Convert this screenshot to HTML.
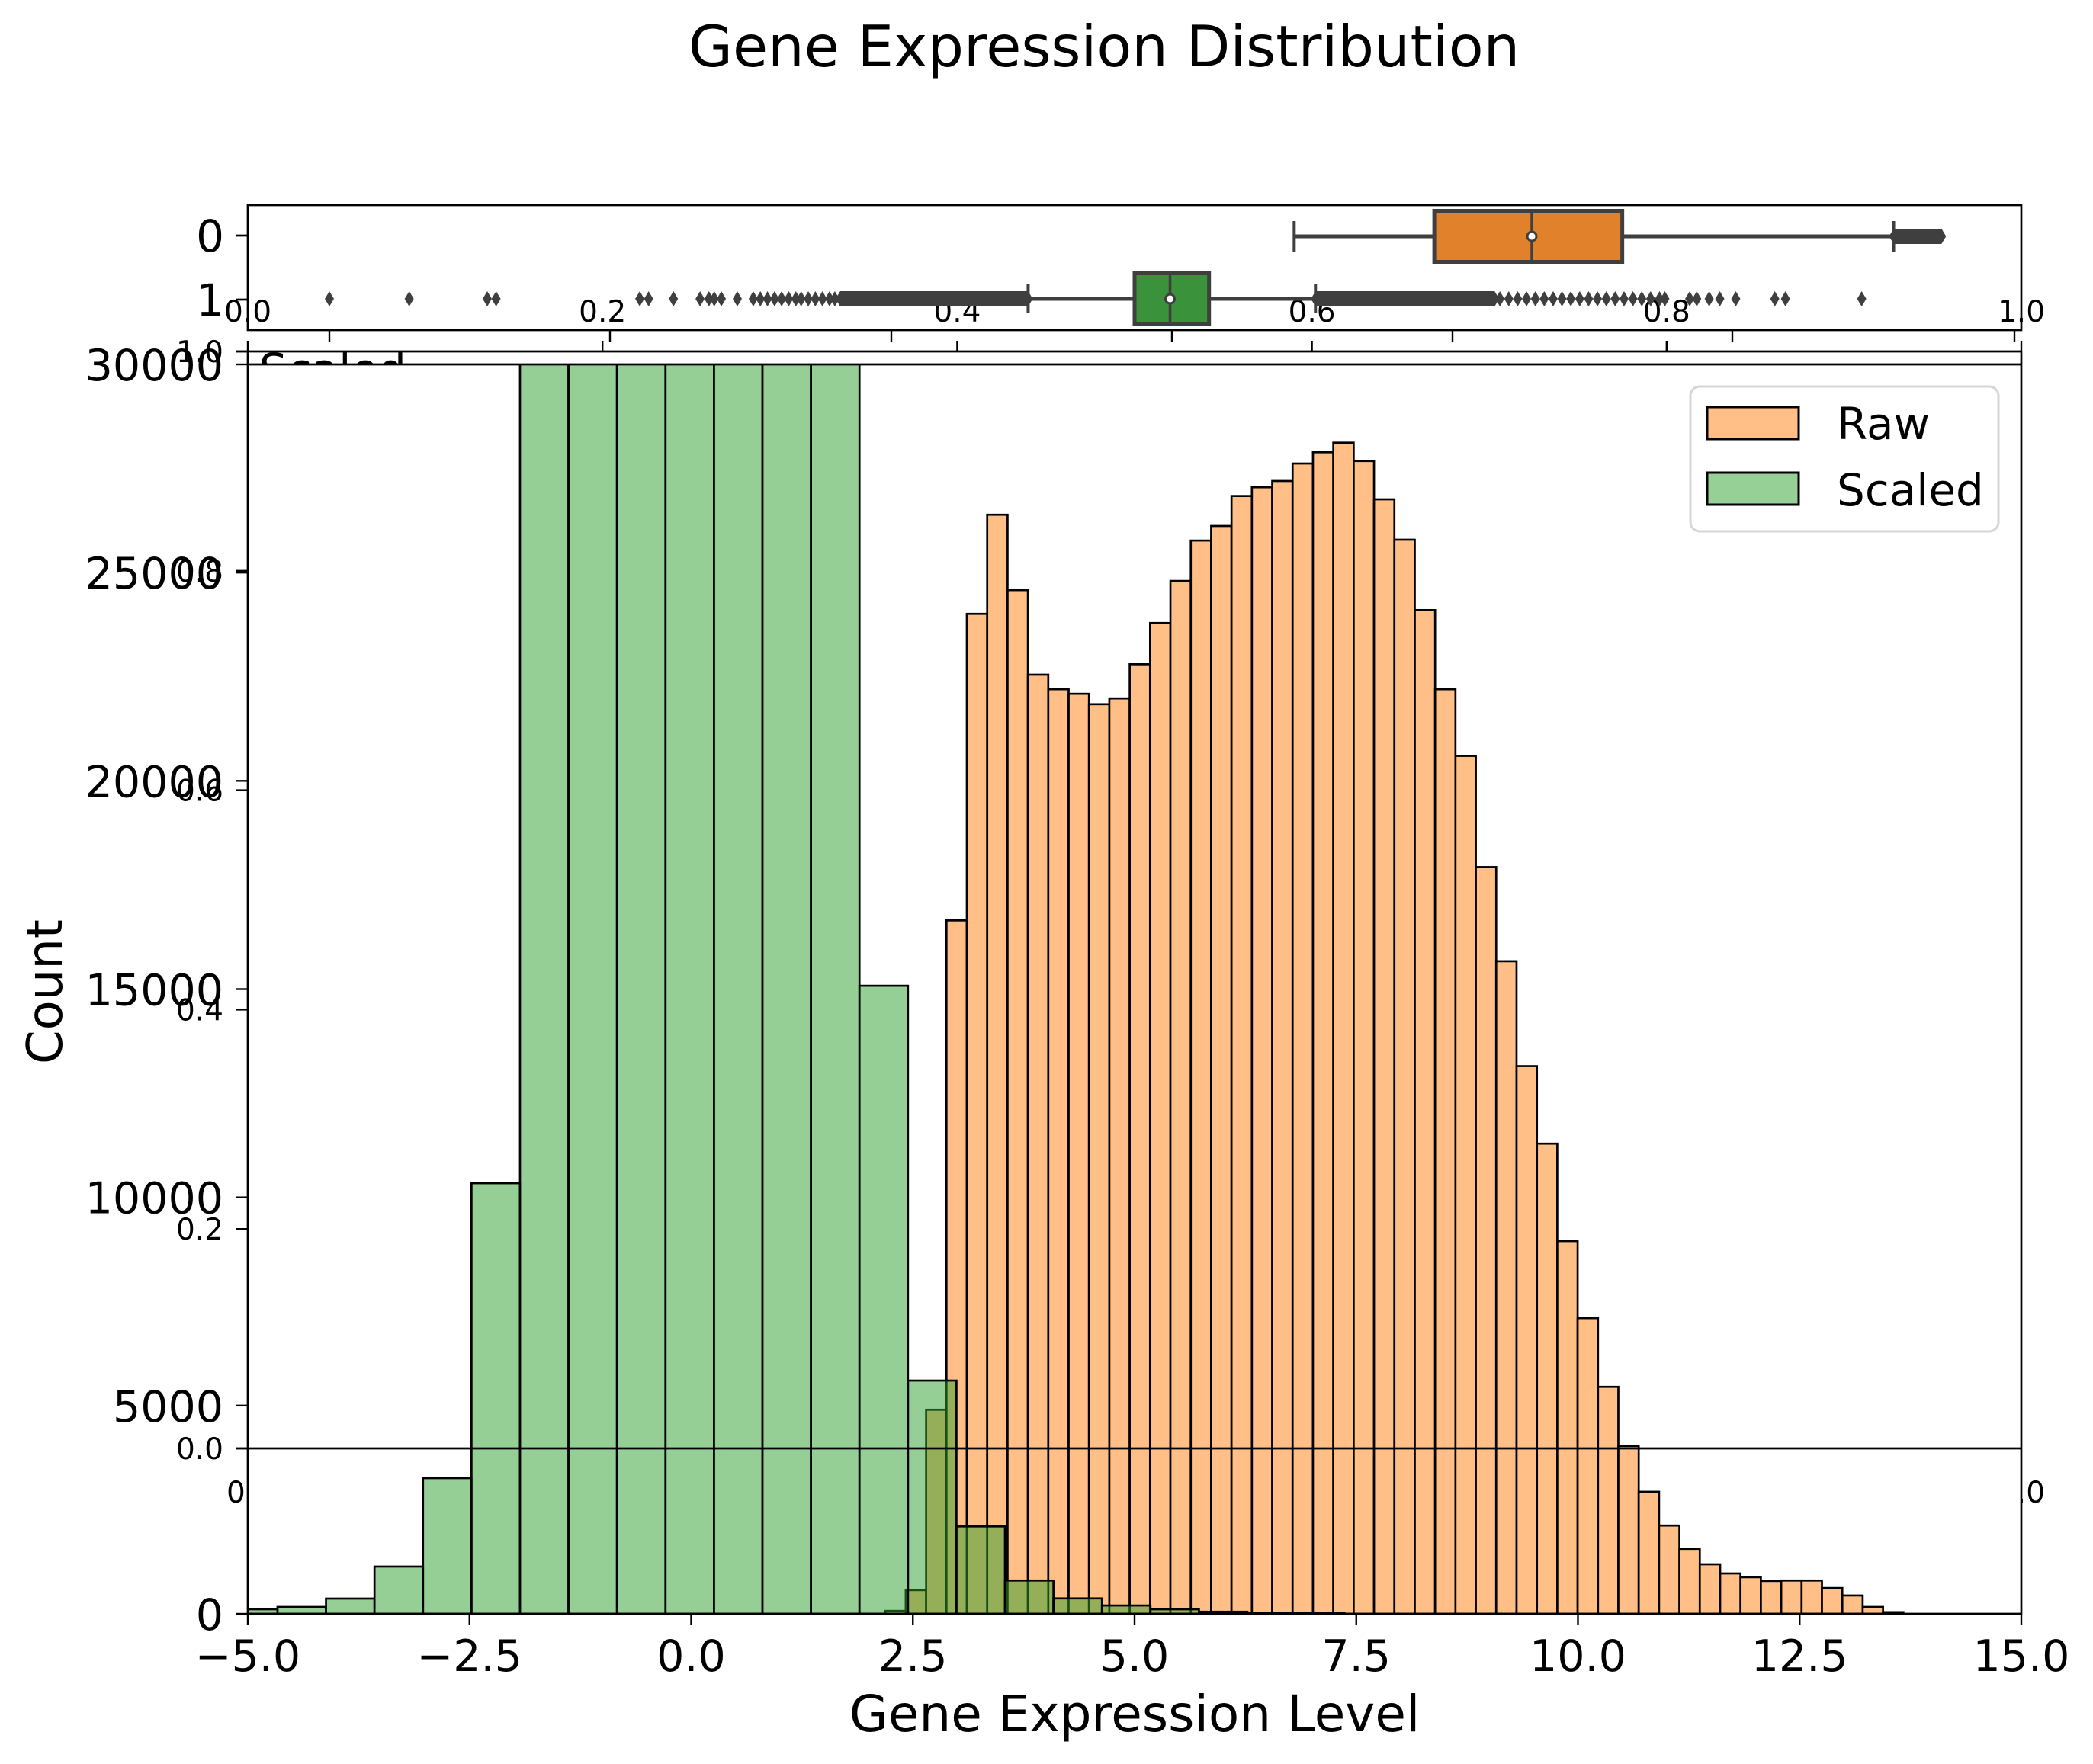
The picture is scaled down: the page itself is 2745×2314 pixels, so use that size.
<!DOCTYPE html>
<html><head><meta charset="utf-8"><style>
html,body{margin:0;padding:0;background:#fff}
svg{display:block;font-family:"DejaVu Sans","Liberation Sans",sans-serif}
</style></head><body>
<svg id="chart" xmlns="http://www.w3.org/2000/svg" width="2745" height="2314" viewBox="0 0 2745 2314">
<defs>
<clipPath id="mainClip"><rect x="325" y="478" width="2326" height="1639"/></clipPath>
<clipPath id="scaledClip"><rect x="325" y="461" width="2326" height="17"/></clipPath>
</defs>
<rect width="2745" height="2314" fill="#fff"/>
<text x="1448" y="87" font-size="75" text-anchor="middle">Gene Expression Distribution</text>
<g id="boxAxes"></g>
<g id="overlay"></g>
<g id="main"></g>
</svg>
<script>
// ---- data ----
const rawStart = 2.19;
const rawWidth = 0.2296;
const rawCounts = [70, 570, 4900, 16650, 24010, 26390, 24580, 22550, 22200, 22090, 21840, 21980, 22800, 23790, 24800, 25770, 26120, 26840, 27050, 27200, 27620, 27890, 28120, 27680, 26760, 25790, 24100, 22200, 20600, 17930, 15670, 13150, 11290, 8950, 7100, 5450, 4030, 2930, 2120, 1560, 1190, 970, 880, 790, 800, 800, 620, 440, 165, 40];
const scaledStart = -5.212;
const scaledWidth = 0.5469;
const scaledCounts = [110, 165, 366, 1135, 3258, 10340, 38000, 62000, 80000, 85000, 75000, 55000, 34000, 15080, 5600, 2100, 800, 370, 200, 110, 50, 30, 15];
const xTicks = [-5, -2.5, 0, 2.5, 5, 7.5, 10, 12.5, 15];
const xTickLabels = ["\u22125.0", "\u22122.5", "0.0", "2.5", "5.0", "7.5", "10.0", "12.5", "15.0"];
const yTicks = [0, 5000, 10000, 15000, 20000, 25000, 30000];
const overlayTicks = [0, 0.2, 0.4, 0.6, 0.8, 1.0];
const overlayTickLabels = ["0.0", "0.2", "0.4", "0.6", "0.8", "1.0"];
const boxRaw = {lo: 0.590, q1: 0.669, med: 0.724, q3: 0.775, hi: 0.928};
const boxScaled = {lo: 0.440, q1: 0.500, med: 0.520, q3: 0.542, hi: 0.602};
const rawOutlierBand = [0.928, 0.955];
const scaledOutliersLow = [0.046, 0.091, 0.135, 0.140, 0.221, 0.226, 0.240, 0.255, 0.260, 0.263, 0.267, 0.276, 0.285, 0.289, 0.293, 0.297, 0.301, 0.305, 0.309, 0.312, 0.316, 0.320, 0.324, 0.328, 0.331];
const scaledBandLow = [0.334, 0.440];
const scaledBandHigh = [0.602, 0.703];
const scaledOutliersHigh = [0.706, 0.711, 0.716, 0.721, 0.726, 0.731, 0.736, 0.741, 0.746, 0.751, 0.756, 0.761, 0.766, 0.771, 0.776, 0.781, 0.786, 0.791, 0.796, 0.799, 0.813, 0.817, 0.824, 0.830, 0.839, 0.861, 0.867, 0.910];
const boxMinorTicks = [432, 800, 1169, 1537, 1905, 2272, 2642];

// ---- helpers ----
const NS = "http://www.w3.org/2000/svg";
function mk(tag, attrs, parent) {
  const e = document.createElementNS(NS, tag);
  for (const k in attrs) e.setAttribute(k, attrs[k]);
  parent.appendChild(e);
  return e;
}
const L = 325, R = 2651, T = 478, B = 2117;
const X = v => L + (v + 5) / 20 * (R - L);
const Y = c => B - c / 30000 * (B - T);
const U = u => L + u * (R - L);
const OY = u => 1900 - u * (1900 - 461);

// ---- box plot axes ----
const bx = document.getElementById('boxAxes');
[[309, "0"], [393, "1"]].forEach(([y, t]) => {
  const tk = mk('line', {x1: 310, x2: 325, y1: y, y2: y, stroke: '#000', 'stroke-width': 2.7}, bx);
  
  
  const lb = mk('text', {x: 294, y: y + 21, 'font-size': 58, 'text-anchor': 'end'}, bx);
  lb.textContent = t;
  
  
});
boxMinorTicks.forEach(x => {
  const tk = mk('line', {x1: x, x2: x, y1: 433, y2: 448, stroke: '#000', 'stroke-width': 2.4}, bx);
  
  
});
overlayTicks.forEach((u, i) => {
  const tk = mk('line', {x1: U(u), x2: U(u), y1: 447, y2: 461, stroke: '#000', 'stroke-width': 2.4}, bx);
  
  
  const lb = mk('text', {x: U(u), y: 422, 'font-size': 39, 'text-anchor': 'middle'}, bx);
  lb.textContent = overlayTickLabels[i];
  
  
});
function diamond(x, y, parent) {
  const d = mk('path', {d: `M${x} ${y-10}L${x+6} ${y}L${x} ${y+10}L${x-6} ${y}Z`, fill: '#3f3f3f'}, parent);
  
  
}
function band(a, b, y, parent) {
  const r = mk('path', {d: `M${U(a)-6} ${y}L${U(a)} ${y-10}L${U(b)} ${y-10}L${U(b)+6} ${y}L${U(b)} ${y+10}L${U(a)} ${y+10}Z`, fill: '#3f3f3f'}, parent);
  
  
}
function drawBox(s, cy, h, cap, color, name) {
  const g = mk('g', {}, bx);
  
  
  mk('line', {x1: U(s.lo), x2: U(s.q1), y1: cy, y2: cy, stroke: '#3f3f3f', 'stroke-width': 5}, g);
  mk('line', {x1: U(s.q3), x2: U(s.hi), y1: cy, y2: cy, stroke: '#3f3f3f', 'stroke-width': 5}, g);
  mk('line', {x1: U(s.lo), x2: U(s.lo), y1: cy - cap, y2: cy + cap, stroke: '#3f3f3f', 'stroke-width': 4}, g);
  mk('line', {x1: U(s.hi), x2: U(s.hi), y1: cy - cap, y2: cy + cap, stroke: '#3f3f3f', 'stroke-width': 4}, g);
  mk('rect', {x: U(s.q1), y: cy - h / 2 + 2.5, width: U(s.q3) - U(s.q1), height: h - 5, fill: color, stroke: '#3f3f3f', 'stroke-width': 5}, g);
  mk('line', {x1: U(s.med), x2: U(s.med), y1: cy - h / 2 + 2.5, y2: cy + h / 2 - 2.5, stroke: '#3f3f3f', 'stroke-width': 3.5}, g);
  mk('circle', {cx: U(s.med), cy: cy, r: 6, fill: '#fff', stroke: '#3f3f3f', 'stroke-width': 3}, g);
}
band(rawOutlierBand[0], rawOutlierBand[1], 310, bx);
band(scaledBandLow[0], scaledBandLow[1], 392, bx);
band(scaledBandHigh[0], scaledBandHigh[1], 392, bx);
scaledOutliersLow.forEach(u => diamond(U(u), 392, bx));
scaledOutliersHigh.forEach(u => diamond(U(u), 392, bx));
drawBox(boxRaw, 310, 72, 20, '#e1812c', 'box-raw');
drawBox(boxScaled, 392, 72, 19, '#3a923a', 'box-scaled');
const bf = mk('rect', {x: L, y: 269, width: R - L, height: 164, fill: 'none', stroke: '#000', 'stroke-width': 2.7}, bx);



// ---- overlay axes ----
const ov = document.getElementById('overlay');
overlayTicks.forEach((u, i) => {
  const tk = mk('line', {x1: 310, x2: 325, y1: OY(u), y2: OY(u), stroke: '#000', 'stroke-width': 2.4}, ov);
  
  
  const lb = mk('text', {x: 293, y: OY(u) + 14, 'font-size': 39, 'text-anchor': 'end'}, ov);
  lb.textContent = overlayTickLabels[i];
  
  
});
const ol0 = mk('text', {x: 297, y: 1971, 'font-size': 39}, ov);
ol0.textContent = "0.";


const ol1 = mk('text', {x: 2651, y: 1971, 'font-size': 39, 'text-anchor': 'middle'}, ov);
ol1.textContent = "1.0";


const st = mk('text', {x: 340, y: 505, 'font-size': 58, 'clip-path': 'url(#scaledClip)'}, ov);
st.textContent = "Scaled";


const topLine = mk('path', {d: `M310 461H${R}M${L} 461V478M${R} 461V478`, stroke: '#000', 'stroke-width': 2.7, fill: 'none'}, ov);



// ---- main histogram axes ----
const mn = document.getElementById('main');
const bg = mk('rect', {x: L + 1.5, y: T, width: R - L - 1.5, height: B - T, fill: '#fff'}, mn);


const bars = mk('g', {'clip-path': 'url(#mainClip)'}, mn);


rawCounts.forEach((c, i) => {
  const x0 = X(rawStart + i * rawWidth), x1 = X(rawStart + (i + 1) * rawWidth);
  const r = mk('rect', {x: x0, y: Y(c), width: x1 - x0, height: B - Y(c), fill: '#ffbf86', stroke: '#000', 'stroke-width': 2.7}, bars);
  
  
});
scaledCounts.forEach((c, i) => {
  const x0 = X(scaledStart + i * scaledWidth), x1 = X(scaledStart + (i + 1) * scaledWidth);
  const r = mk('rect', {x: x0, y: Y(c), width: x1 - x0, height: B - Y(c), fill: 'rgb(44,160,44)', 'fill-opacity': 0.5, stroke: '#000', 'stroke-width': 2.7}, bars);
  
  
});
const zl = mk('line', {x1: 310, x2: R, y1: 1900, y2: 1900, stroke: '#000', 'stroke-width': 2.7}, mn);


const fr = mk('path', {d: `M${L} ${T}H${R}V${B}H${L}Z`, fill: 'none', stroke: '#000', 'stroke-width': 2.7}, mn);


xTicks.forEach((v, i) => {
  const tk = mk('line', {x1: X(v), x2: X(v), y1: B, y2: B + 15, stroke: '#000', 'stroke-width': 2.4}, mn);
  
  
  const lb = mk('text', {x: X(v), y: 2192, 'font-size': 57, 'text-anchor': 'middle'}, mn);
  lb.textContent = xTickLabels[i];
  
  
});
yTicks.forEach(v => {
  const tk = mk('line', {x1: 310, x2: L, y1: Y(v), y2: Y(v), stroke: '#000', 'stroke-width': 2.4}, mn);
  
  
  const lb = mk('text', {x: 293, y: Y(v) + 21, 'font-size': 57, 'text-anchor': 'end'}, mn);
  lb.textContent = String(v);
  
  
});
const xl = mk('text', {x: 1488, y: 2271, 'font-size': 66, 'text-anchor': 'middle'}, mn);
xl.textContent = "Gene Expression Level";


const yl = mk('text', {x: 0, y: 0, 'font-size': 64, 'text-anchor': 'middle', transform: 'translate(81 1301) rotate(-90)'}, mn);
yl.textContent = "Count";



// legend
const lg = mk('g', {}, mn);


mk('rect', {x: 2217, y: 507, width: 404, height: 190, rx: 12, fill: '#fff', 'fill-opacity': 0.8, stroke: '#d6d6d6', 'stroke-width': 3}, lg);
[[534, '#ffbf86', 'Raw', 576], [620, '#96d096', 'Scaled', 663]].forEach(([y, c, t, by]) => {
  const p = mk('rect', {x: 2239, y: y, width: 120, height: 42, fill: c, stroke: '#000', 'stroke-width': 3}, lg);
  
  
  const tx = mk('text', {x: 2409, y: by, 'font-size': 58}, lg);
  tx.textContent = t;
  
  
});
</script>
</body></html>
